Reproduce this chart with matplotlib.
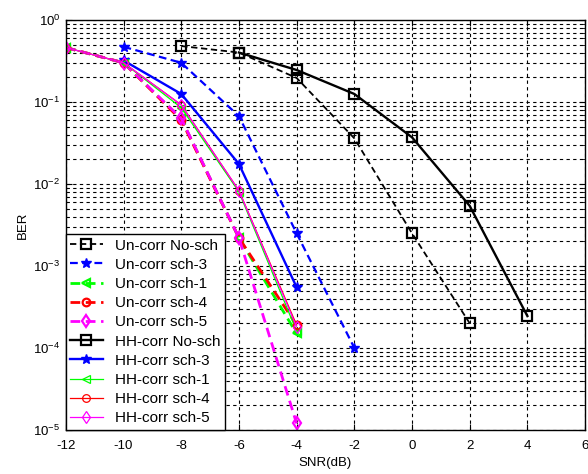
import numpy as np
import matplotlib as mpl
mpl.use('Agg')
import matplotlib.pyplot as plt
import matplotlib.ticker as ticker

mpl.rc('font', family=['Liberation Sans', 'DejaVu Sans'], size=9.5)
mpl.rc('mathtext', fontset='custom', rm='Liberation Sans')
mpl.rc('axes', unicode_minus=False)
mpl.rc('xtick', direction='in', top=True)
mpl.rc('ytick', direction='in', right=True)
mpl.rc('legend', fontsize=11)

# --- BER curves (SNR in dB) ---
snr_uc_nosch = [-8, -6, -4, -2, 0, 2]
ber_uc_nosch = [0.48, 0.40, 0.196, 0.036, 0.0025, 2.0e-4]
snr_uc_sch3 = [-10, -8, -6, -4, -2]
ber_uc_sch3 = [0.47, 0.30, 0.067, 0.0025, 1.0e-4]
snr_uc_sch1 = [-12, -10, -8, -6, -4]
ber_uc_sch1 = [0.46, 0.30, 0.062, 0.0022, 1.5e-4]
snr_uc_sch4 = [-12, -10, -8, -6, -4]
ber_uc_sch4 = [0.46, 0.30, 0.060, 0.0022, 1.9e-4]
snr_uc_sch5 = [-12, -10, -8, -6, -4]
ber_uc_sch5 = [0.46, 0.30, 0.063, 0.0022, 1.2e-5]

snr_hh_nosch = [-6, -4, -2, 0, 2, 4]
ber_hh_nosch = [0.40, 0.245, 0.125, 0.037, 0.0054, 2.45e-4]
snr_hh_sch3 = [-10, -8, -6, -4]
ber_hh_sch3 = [0.32, 0.125, 0.0175, 5.5e-4]
snr_hh_sch1 = [-12, -10, -8, -6, -4]
ber_hh_sch1 = [0.46, 0.30, 0.085, 0.0080, 1.6e-4]
snr_hh_sch4 = [-12, -10, -8, -6, -4]
ber_hh_sch4 = [0.46, 0.30, 0.092, 0.0083, 1.9e-4]
snr_hh_sch5 = [-12, -10, -8, -6, -4]
ber_hh_sch5 = [0.46, 0.30, 0.092, 0.0083, 1.8e-4]

dash = (0, (3.5, 2))
green = '#00ff00'
magenta = '#ff00ff'

fig = plt.figure(figsize=(5.88, 4.74), dpi=100)
ax = fig.add_axes([0.112, 0.093, 0.883, 0.865])

# uncorrelated channel: dashed
ax.plot(snr_uc_nosch, ber_uc_nosch, color='k', ls=dash, lw=1.3, marker='s',
        ms=6.5, mfc='none', mew=1.6, label='Un-corr No-sch')
ax.plot(snr_uc_sch3, ber_uc_sch3, color='b', ls=dash, lw=1.6, marker='*',
        ms=7.5, label='Un-corr sch-3')
ax.plot(snr_uc_sch1, ber_uc_sch1, color=green, ls=dash, lw=2.0, marker='<',
        ms=6, mfc='none', mew=1.6, label='Un-corr sch-1')
ax.plot(snr_uc_sch4, ber_uc_sch4, color='r', ls=dash, lw=2.0, marker='o',
        ms=5.5, mfc='none', mew=1.6, label='Un-corr sch-4')
ax.plot(snr_uc_sch5, ber_uc_sch5, color=magenta, ls=dash, lw=2.0, marker='d',
        ms=6.5, mfc='none', mew=1.6, label='Un-corr sch-5')

# correlated channel: solid
ax.plot(snr_hh_nosch, ber_hh_nosch, color='k', ls='-', lw=1.7, marker='s',
        ms=6.5, mfc='none', mew=1.6, label='HH-corr No-sch')
ax.plot(snr_hh_sch3, ber_hh_sch3, color='b', ls='-', lw=1.7, marker='*',
        ms=7.5, label='HH-corr sch-3')
ax.plot(snr_hh_sch1, ber_hh_sch1, color=green, ls='-', lw=0.9, marker='<',
        ms=6, mfc='none', mew=0.9, label='HH-corr sch-1')
ax.plot(snr_hh_sch4, ber_hh_sch4, color='r', ls='-', lw=0.9, marker='o',
        ms=5.5, mfc='none', mew=0.9, label='HH-corr sch-4')
ax.plot(snr_hh_sch5, ber_hh_sch5, color=magenta, ls='-', lw=0.9, marker='d',
        ms=6.5, mfc='none', mew=0.9, label='HH-corr sch-5')

ax.set_yscale('log')
ax.set_xlim(-12, 6)
ax.set_ylim(1e-5, 1)
ax.set_xticks(np.arange(-12, 7, 2))
ax.yaxis.set_major_locator(ticker.LogLocator(base=10, numticks=10))
ax.yaxis.set_minor_locator(ticker.LogLocator(base=10, subs=np.arange(2, 10), numticks=10))
ax.yaxis.set_minor_formatter(ticker.NullFormatter())
ax.tick_params(which='major', length=4, width=0.8, pad=4)
ax.tick_params(axis='x', which='major', pad=7)
ax.tick_params(which='minor', length=2, width=0.6)

ax.grid(True, which='major', axis='both', color='k', ls=(0, (3, 3)), lw=0.8)
ax.grid(True, which='minor', axis='y', color='k', ls=(0, (3, 3)), lw=0.8)
ax.set_axisbelow(True)

for s in ax.spines.values():
    s.set_linewidth(1.0)

ax.set_xlabel('SNR(dB)', labelpad=4)
ax.set_ylabel('BER', labelpad=3)

leg = ax.legend(loc='lower left', borderaxespad=0, fancybox=False, framealpha=1,
                edgecolor='k', handlelength=2.1, labelspacing=0.34, borderpad=0.3,
                handletextpad=0.8)
leg.get_frame().set_linewidth(1.0)

fig.savefig('out.png', dpi=100)
